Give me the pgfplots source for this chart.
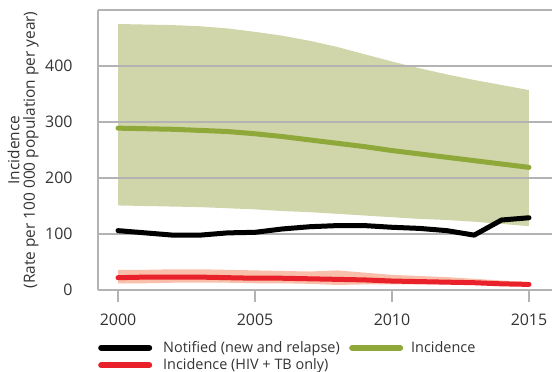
\documentclass[border=0pt]{standalone}
\usepackage{fontspec}
\setmainfont{Open Sans}
\usepackage{pgfplots}
\pgfplotsset{compat=1.18}
\definecolor{txt}{HTML}{333333}
\definecolor{bandg}{HTML}{D0D6A9}
\definecolor{lineg}{HTML}{8FA83A}
\definecolor{liner}{HTML}{E8212A}
\definecolor{bandr}{HTML}{F9BFAA}
\definecolor{gridc}{HTML}{B3B3B3}
\begin{document}
\begin{tikzpicture}
\begin{axis}[
  set layers,
  at={(0bp,0bp)}, anchor=south west,
  scale only axis, width=454bp, height=280bp,
  xmin=1999.27, xmax=2015.84, ymin=0, ymax=500,
  axis lines*=left,
  axis line style={gridc, line width=1.2bp},
  ymajorgrids, grid style={gridc, line width=1.2bp},
  ytick={0,100,200,300,400,500},
  yticklabels={0,100,200,300,400,{}},
  xtick={2000,2005,2010,2015},
  xticklabels={2000,2005,2010,2015},
  ytick style={draw=none},
  xtick style={gridc, line width=1.2bp},
  tick align=outside, major tick length=12bp,
  tick label style={font=\fontsize{16}{18}\selectfont, text=txt},
  yticklabel style={xshift=-10bp},
  xticklabel style={yshift=-8bp},
  ylabel={Incidence\\(Rate per 100 000 population per year)},
  ylabel style={at={(axis description cs:-0.165,0.5)}, anchor=center, align=center, font=\fontsize{15.5}{15.5}\selectfont, text=txt},
  legend columns=2,
  legend style={at={(axis description cs:0,-0.176)}, anchor=north west, draw=none, fill=none,
    inner sep=0pt, font=\fontsize{14.5}{17}\selectfont, text=txt, row sep=1bp,
    cells={anchor=west}},
  legend image code/.code={\draw[#1, line width=6bp, line cap=round] (3bp,0bp) -- (51bp,0bp);},
]
% Incidence uncertainty band (upper 2000->2015, lower 2015->2000)
\addplot[fill=bandg, draw=none, on layer=axis background, forget plot] coordinates {
 (2000,475) (2001,474) (2002,473) (2003,471) (2004,467) (2005,461) (2006,454) (2007,445)
 (2008,434) (2009,421) (2010,408) (2011,396) (2012,385) (2013,375) (2014,366) (2015,357)
 (2015,114) (2014,118) (2013,122) (2012,125) (2011,127) (2010,130) (2009,133) (2008,136)
 (2007,139) (2006,141) (2005,144) (2004,146) (2003,148) (2002,149) (2001,150) (2000,151)
};
% HIV+TB uncertainty band
\addplot[fill=bandr, draw=none, on layer=axis background, forget plot] coordinates {
 (2000,36) (2001,36) (2002,37) (2003,37) (2004,36) (2005,35) (2006,34) (2007,33)
 (2008,35) (2009,31) (2010,27) (2011,25) (2012,23) (2013,20) (2014,17) (2015,14)
 (2015,7) (2014,8) (2013,9) (2012,10) (2011,10) (2010,10) (2009,10) (2008,9)
 (2007,11) (2006,12) (2005,12) (2004,13) (2003,13) (2002,13) (2001,12) (2000,12)
};
\addplot[black, line width=5bp, line cap=round, line join=round] coordinates {
 (2000,106) (2001,102) (2002,98) (2003,98) (2004,102) (2005,103) (2006,109) (2007,113)
 (2008,115) (2009,115) (2010,112) (2011,110) (2012,106) (2013,98) (2014,125) (2015,129)
};
\addlegendentry{\hspace*{9bp}\makebox[184bp][l]{Notified (new and relapse)}}
\addplot[lineg, line width=5bp, line cap=round, line join=round] coordinates {
 (2000,289) (2001,288) (2002,287) (2003,285) (2004,283) (2005,279) (2006,274) (2007,268)
 (2008,262) (2009,256) (2010,249) (2011,243) (2012,237) (2013,231) (2014,225) (2015,219)
};
\addlegendentry{\hspace*{6bp}Incidence}
\addplot[liner, line width=5bp, line cap=round, line join=round] coordinates {
 (2000,22) (2001,23) (2002,23) (2003,23) (2004,22) (2005,21) (2006,21) (2007,20)
 (2008,19) (2009,18) (2010,16) (2011,15) (2012,14) (2013,13) (2014,11) (2015,10)
};
\addlegendentry{\hspace*{9bp}Incidence (HIV + TB only)}
\end{axis}
\pgfresetboundingbox
\path (-98bp,-82bp) rectangle (454bp,290bp);
\end{tikzpicture}
\end{document}
